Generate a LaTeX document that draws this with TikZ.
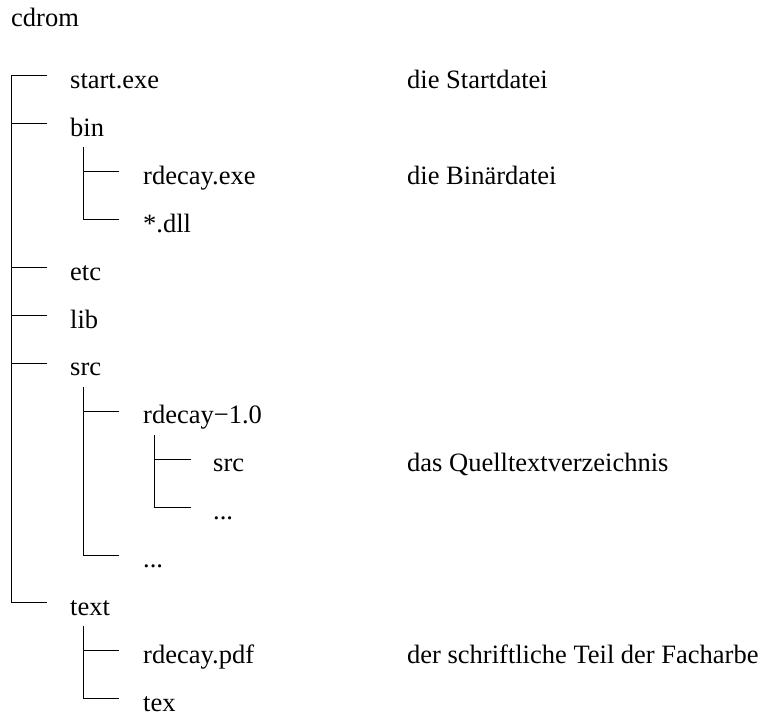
\documentclass[tikz,border=0pt]{standalone}
\usepackage{fontspec}
\setmainfont{Liberation Serif}
\begin{document}
\begin{tikzpicture}[x=1bp,y=-1bp,
  entry/.style={anchor=base west, inner sep=0pt, font=\fontsize{26.5bp}{32bp}\selectfont},
  branch/.style={draw=black, line width=1bp, line cap=rect}]
\useasboundingbox (0,0) rectangle (763,716);
% texts
\node[entry] (root) at (11,27) {cdrom};
\node[entry] (n0) at (70,88.5) {start.exe};
\node[entry] (n1) at (70,136.4) {bin};
\node[entry] (n2) at (143,184.3) {rdecay.exe};
\node[entry] (n3) at (143,232.2) {*.dll};
\node[entry] (n4) at (70,280.1) {etc};
\node[entry] (n5) at (70,328) {lib};
\node[entry] (n6) at (70,375.9) {src};
\node[entry] (n7) at (143,423.8) {rdecay−1.0};
\node[entry] (n8) at (213,471.7) {src};
\node[entry] (n9) at (213,519.6) {...};
\node[entry] (n10) at (143,567.5) {...};
\node[entry] (n11) at (70,615.4) {text};
\node[entry] (n12) at (143,663.3) {rdecay.pdf};
\node[entry] (n13) at (143,711.2) {tex};
% comments
\node[entry] (c0) at (407,88.5) {die Startdatei};
\node[entry] (c2) at (407,184.3) {die Binärdatei};
\node[entry] (c8) at (407,471.7) {das Quelltextverzeichnis};
\node[entry] (c12) at (407,663.3) {der schriftliche Teil der Facharbe};
% branch points
\coordinate (a0) at (11.5,76);     \coordinate (b0) at (46,76);
\coordinate (a1) at (11.5,123.9);  \coordinate (b1) at (46,123.9);
\coordinate (a4) at (11.5,267.6);  \coordinate (b4) at (46,267.6);
\coordinate (a5) at (11.5,315.5);  \coordinate (b5) at (46,315.5);
\coordinate (a6) at (11.5,363.4);  \coordinate (b6) at (46,363.4);
\coordinate (a11) at (11.5,602.9); \coordinate (b11) at (46,602.9);
\coordinate (t1) at (83,147.9);
\coordinate (a2) at (83,171.8);    \coordinate (b2) at (118,171.8);
\coordinate (a3) at (83,219.7);    \coordinate (b3) at (118,219.7);
\coordinate (t6) at (83,387.4);
\coordinate (a7) at (83,411.3);    \coordinate (b7) at (118,411.3);
\coordinate (a10) at (83,555);     \coordinate (b10) at (118,555);
\coordinate (t7) at (154,435.3);
\coordinate (a8) at (154,459.2);   \coordinate (b8) at (190,459.2);
\coordinate (a9) at (154,507.1);   \coordinate (b9) at (190,507.1);
\coordinate (t11) at (83,626.9);
\coordinate (a12) at (83,650.8);   \coordinate (b12) at (118,650.8);
\coordinate (a13) at (83,698.7);   \coordinate (b13) at (118,698.7);
% verticals
\draw[branch] (a0) -- (a11);
\draw[branch] (t1) -- (a3);
\draw[branch] (t6) -- (a10);
\draw[branch] (t7) -- (a9);
\draw[branch] (t11) -- (a13);
% horizontals
\foreach \i in {0,1,2,3,4,5,6,7,8,9,10,11,12,13}{\draw[branch] (a\i) -- (b\i);}
\end{tikzpicture}
\end{document}
